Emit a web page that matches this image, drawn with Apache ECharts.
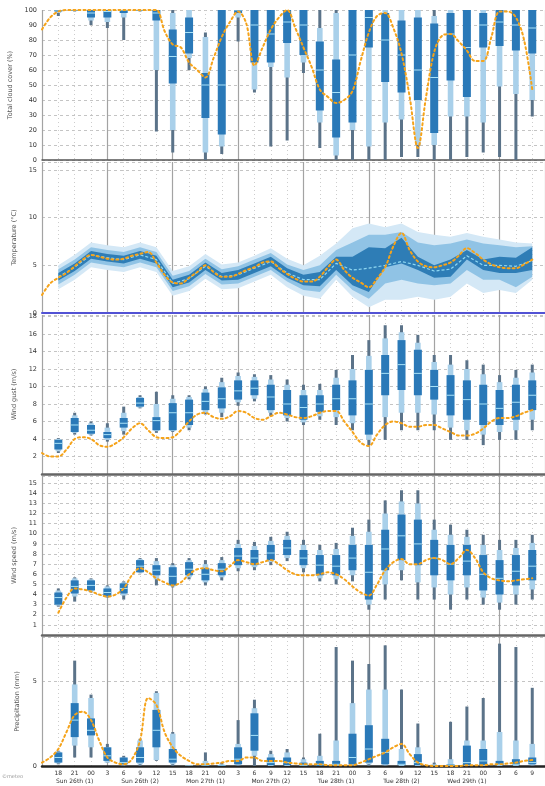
<!DOCTYPE html>
<html><head><meta charset="utf-8">
<script src="https://cdn.jsdelivr.net/npm/echarts@6/dist/echarts.min.js"></script>
<style>html,body{margin:0;padding:0;background:#fff}#c{width:545px;height:786px}</style>
</head><body><div id="c"></div>
<script>
// ---------- categories / labels ----------
const hourLabels = ['18','21','00','3','6','9','12','15','18','21','00','3','6','9','12','15','18','21','00','3','6','9','12','15','18','21','00','3','6','9'];
const dateLabels = ['Sun 26th (1)','Sun 26th (2)','Mon 27th (1)','Mon 27th (2)','Tue 28th (1)','Tue 28th (2)','Wed 29th (1)'];
const panelTitles = ['Total cloud cover (%)','Temperature (°C)','Wind gust (m/s)','Wind speed (m/s)','Precipitation (mm)'];

// ---------- ensemble percentiles per step: [min, p10, p25, median, p75, p90, max] ----------
const cloudBoxes = [
 [96,98,99,100,100,100,100],[99,100,100,100,100,100,100],[90,93,95,98,100,100,100],[88,92,95,99,100,100,100],
 [80,95,98,100,100,100,100],[99,100,100,100,100,100,100],[19,60,93,98,100,100,100],[5,20,51,69,87,98,100],
 [60,68,71,85,95,100,100],[0,5,28,50,58,82,85],[4,9,17,50,100,100,100],[79,95,98,100,100,100,100],
 [45,47,65,90,100,100,100],[9,62,65,84,100,100,100],[13,55,78,92,100,100,100],[58,65,70,90,100,100,100],
 [8,25,33,60,79,88,100],[0,3,15,45,67,98,100],[0,20,25,70,100,100,100],[0,9,75,95,100,100,100],
 [0,25,52,80,98,100,100],[2,27,45,70,93,100,100],[2,10,40,60,95,100,100],[0,10,18,55,91,96,100],
 [0,29,53,84,98,100,100],[2,29,42,75,100,100,100],[5,25,75,90,98,100,100],[2,49,76,92,100,100,100],
 [0,44,73,90,100,100,100],[29,40,71,88,100,100,100]
];
const tempBands = [
 [2.5,3.0,3.4,3.8,4.2,4.6,5.0],[3.5,4.0,4.4,4.8,5.2,5.6,6.1],[4.8,5.3,5.7,6.1,6.5,6.9,7.4],[4.5,5.0,5.4,5.8,6.2,6.6,7.1],
 [4.3,4.8,5.2,5.6,6.0,6.4,6.9],[4.8,5.3,5.7,6.1,6.5,6.9,7.4],[4.3,4.8,5.2,5.6,6.0,6.4,6.9],[1.8,2.3,2.7,3.1,3.5,3.9,4.4],
 [2.3,2.8,3.2,3.6,4.0,4.4,4.9],[3.6,4.1,4.5,4.9,5.3,5.7,6.2],[2.5,3.0,3.4,3.8,4.2,4.6,5.1],[2.6,3.1,3.5,4.0,4.5,4.9,5.3],
 [3.3,3.8,4.2,4.7,5.2,5.6,6.0],[4.0,4.5,4.9,5.4,5.9,6.3,6.8],[2.7,3.3,3.7,4.2,4.7,5.1,5.7],[1.8,2.4,2.9,3.5,4.0,4.5,5.0],
 [1.5,2.2,2.8,3.5,4.3,5.0,6.0],[3.5,4.0,4.5,5.2,5.9,6.6,7.3],[1.7,2.4,2.9,4.5,5.9,7.4,8.9],[0.6,1.5,2.2,4.7,6.9,8.2,9.4],
 [1.4,3.1,4.8,5.0,6.8,8.2,9.0],[1.4,3.5,5.2,5.4,7.9,8.5,9.4],[1.7,3.1,4.5,5.0,5.9,7.4,8.5],[1.4,2.9,3.7,4.4,5.0,7.1,8.2],
 [1.7,3.1,3.8,4.6,5.6,7.3,8.0],[3.1,4.5,5.6,6.0,6.6,7.7,8.4],[2.1,3.5,4.5,5.0,5.6,7.3,8.0],[2.4,3.5,4.2,5.0,5.9,7.1,7.7],
 [2.1,2.7,4.2,4.9,5.8,6.9,7.4],[3.5,3.8,4.5,5.5,6.9,7.0,7.3]
];
const gustBoxes = [
 [2.4,2.6,2.8,3.5,3.9,4.0,4.1],[4.5,4.7,4.8,5.6,6.4,6.7,7.0],[4.4,4.5,4.6,5.0,5.6,5.8,6.0],[3.7,3.9,4.1,4.5,4.8,5.3,5.8],
 [4.5,4.9,5.3,5.8,6.4,7.0,7.7],[7.5,7.6,7.7,8.1,8.7,8.8,9.0],[4.7,4.9,5.0,6.1,6.5,8.0,9.4],[4.8,4.9,5.0,7.0,8.1,8.6,9.0],
 [5.0,5.3,5.6,7.0,8.5,8.8,9.0],[6.8,7.0,7.3,8.3,9.3,9.7,10.0],[6.5,7.0,7.5,8.6,9.9,10.5,11.0],[7.8,8.2,8.5,9.5,10.7,11.2,11.6],
 [8.3,8.6,9.0,9.8,10.7,11.1,11.4],[6.6,7.0,7.3,8.8,10.2,10.8,11.3],[6.0,6.4,6.7,8.0,9.6,10.2,10.8],[5.6,5.9,6.2,7.6,9.0,9.6,10.2],
 [6.2,6.6,7.1,8.0,9.0,9.6,10.3],[5.6,6.5,7.3,8.6,10.2,11.0,11.9],[5.0,5.8,6.7,8.6,10.7,12.0,13.6],[3.3,3.9,4.5,8.0,11.9,13.5,15.3],
 [3.9,6.5,9.0,11.5,13.6,15.5,17.0],[5.0,7.0,9.6,12.5,15.3,16.2,17.0],[5.0,7.0,9.0,11.5,14.2,15.0,15.9],[5.0,6.8,8.5,10.0,11.9,12.8,13.6],
 [3.9,5.3,6.7,9.0,11.3,12.5,13.6],[3.9,5.0,6.2,8.5,10.7,12.0,13.0],[3.3,4.5,5.6,8.0,10.2,11.4,12.5],[3.9,4.8,5.6,7.5,9.6,10.5,11.3],
 [3.9,5.0,6.2,8.2,10.2,11.0,11.9],[5.0,6.2,7.3,9.0,10.7,11.6,12.5]
];
const windBoxes = [
 [2.8,2.9,3.0,3.7,4.2,4.4,4.6],[3.3,3.8,4.1,4.8,5.4,5.6,5.7],[4.2,4.3,4.4,4.9,5.4,5.5,5.6],[3.7,3.75,3.8,4.2,4.6,4.8,4.9],
 [3.5,3.9,4.1,4.6,5.1,5.2,5.3],[6.1,6.15,6.2,6.8,7.4,7.5,7.6],[4.9,5.5,5.9,6.4,6.9,7.3,7.6],[4.7,4.8,4.9,5.8,6.7,6.9,7.1],
 [5.5,5.7,5.9,6.5,7.2,7.4,7.6],[4.9,5.2,5.4,6.0,6.6,7.0,7.4],[5.4,5.7,5.9,6.5,7.1,7.4,7.7],[6.3,6.6,6.9,7.8,8.6,9.0,9.4],
 [6.4,6.7,6.9,7.6,8.4,8.8,9.2],[6.9,7.2,7.4,8.1,8.9,9.3,9.7],[7.3,7.6,7.9,8.6,9.4,9.8,10.2],[6.2,6.6,6.9,7.6,8.4,8.9,9.4],
 [5.3,5.6,5.9,6.9,7.9,8.4,8.9],[5.0,5.5,5.9,6.8,7.9,8.5,9.1],[5.3,5.9,6.4,7.6,8.9,9.8,10.6],[2.5,3.0,3.5,6.2,8.9,10.2,11.4],
 [3.5,5.0,6.4,8.5,10.4,12.0,13.3],[5.4,6.4,7.4,9.8,11.9,13.2,14.3],[3.5,5.2,6.9,9.0,11.4,13.0,14.3],[3.5,4.7,5.9,7.6,9.4,10.4,11.4],
 [2.5,4.0,5.4,7.0,8.9,9.9,10.9],[3.5,4.7,5.9,7.3,8.9,9.7,10.4],[3.0,3.7,4.4,6.0,7.9,8.9,9.9],[2.5,3.2,4.0,5.6,7.4,8.4,9.4],
 [3.0,4.0,4.9,6.3,7.9,8.6,9.4],[3.5,4.5,5.4,6.8,8.4,9.1,9.9]
];
const precipBoxes = [
 [0.1,0.15,0.2,0.5,0.8,0.85,0.9],[0.5,1.2,1.7,2.7,3.7,4.8,6.2],[0.5,1.1,1.8,2.1,2.8,4.0,4.2],[0.2,0.2,0.3,0.6,1.1,1.1,1.3],
 [0,0.05,0.1,0.2,0.5,0.5,0.6],[0,0.1,0.2,0.5,1.1,1.5,1.6],[0.3,0.35,1.1,2.1,3.3,4.3,4.4],[0,0.1,0.2,0.4,1.0,1.9,2.0],
 [0,0,0,0,0,0,0.05],[0,0,0,0,0.05,0.3,0.8],[0,0,0,0,0.05,0.1,0.2],[0,0.05,0.1,0.4,1.1,1.3,2.7],
 [0,0.6,0.9,1.8,3.1,3.4,3.9],[0,0,0.05,0.2,0.5,0.7,0.9],[0,0,0.05,0.2,0.5,0.8,1.0],[0,0,0,0.05,0.2,0.4,0.5],
 [0,0,0,0.1,0.3,0.6,1.9],[0,0,0.05,0.1,0.3,1.5,7.0],[0,0.05,0.1,0.5,1.9,3.7,6.2],[0,0.1,0.2,1.0,2.4,4.5,6.0],
 [0,0.05,0.1,0.8,1.6,4.5,7.1],[0,0,0.05,0.1,0.3,1.0,4.5],[0,0,0.05,0.2,0.7,1.1,2.5],[0,0,0,0,0.05,0.1,0.2],
 [0,0,0,0.05,0.1,0.4,2.6],[0,0,0.05,0.2,1.2,1.5,3.5],[0,0,0.05,0.3,1.0,1.5,4.0],[0,0,0.05,0.1,0.3,2.0,7.2],
 [0,0,0.05,0.1,0.4,1.5,7.0],[0,0.05,0.1,0.2,0.5,1.3,4.6]
];

// ---------- observed (orange) series, sampled every half step ----------
const obsX = [0,0.5,1,1.5,2,2.5,3,3.5,4,4.5,5,5.5,6,6.5,7,7.5,8,8.5,9,9.5,10,10.5,11,11.5,12,12.5,13,13.5,14,14.5,15,15.5,16,16.5,17,17.5,18,18.5,19,19.5,20,20.5,21,21.5,22,22.5,23,23.5,24,24.5,25,25.5,26,26.5,27,27.5,28,28.5,29,29.5,30];
const cloudObs = [87,95,99,100,100,100,100,100,100,100,100,100,100,100,100,86,77,75,65,60,55,68,82,92,99,91,63,75,87,95,100,88,75,62,47,42,38,40,46,66,85,96,98,88,71,42,8,42,72,83,84,79,73,66,66,82,99,99,95,80,47];
const tempObs = [1.9,3.1,3.7,4.2,4.9,5.6,6.1,5.9,5.7,5.6,5.7,6.0,6.2,6.4,5.3,4.0,3.2,3.1,3.7,4.3,5.0,4.3,3.8,3.8,4.1,4.5,4.8,5.3,5.4,4.7,4.1,3.6,3.3,3.3,3.8,4.8,5.6,4.5,3.7,3.2,2.7,3.6,4.8,7.0,8.4,6.6,5.4,4.9,4.8,5.0,5.3,6.0,6.8,6.3,5.6,5.1,4.8,4.7,4.7,5.1,5.6];
const gustObs = [2.4,2.0,2.0,2.8,4.0,4.2,4.0,3.3,3.1,3.5,4.2,5.2,5.8,5.0,4.2,4.1,4.2,5.0,6.0,6.8,7.0,6.5,6.3,6.6,7.2,7.0,6.4,6.2,6.6,7.0,6.8,6.5,6.4,6.6,7.0,7.2,7.2,6.0,4.8,3.6,3.2,4.5,5.6,6.0,5.8,5.4,5.4,5.6,5.6,5.2,4.8,4.4,4.4,4.6,5.2,6.0,6.4,6.4,6.6,7.0,7.3];
const windObs = [null,null,2.2,3.7,4.6,4.5,4.3,4.0,3.8,4.0,4.6,5.9,6.6,6.2,5.6,5.2,4.9,5.2,6.0,6.5,6.6,6.4,6.3,6.8,7.4,7.2,7.0,7.2,7.4,7.0,6.4,6.0,5.9,5.9,6.0,6.2,6.0,5.5,4.8,4.2,3.9,5.0,6.4,7.2,7.5,7.0,7.0,7.4,7.6,7.4,7.0,7.6,8.4,7.6,6.2,5.6,5.4,5.3,5.4,5.5,5.6];
const precipObs = [0.2,0.5,1.0,2.0,3.0,3.2,2.7,1.5,0.5,0.2,0.1,0.4,1.5,4.0,3.6,2.0,1.1,0.6,0.3,0.1,0.1,0.15,0.2,0.3,0.3,0.5,0.5,0.3,0.3,0.3,0.2,0.15,0.1,0.1,0.1,0.05,0.05,0.05,0.05,0.2,0.4,0.6,0.8,1.1,1.3,0.7,0.2,0.05,0,0,0,0,0.05,0.05,0.05,0.1,0.1,0.15,0.2,0.3,0.35];

// ---------- axis ranges ----------
const xMax = 30.78;
const yMaxes = [100, 15.84, 18.17, 15.71, 7.59];
const yIntervals = [10, 5, 2, 1, 5];

const C = {slate:'#5b7389', light:'#a9d0ea', blue:'#2a79b8', med:'#a8e2f8', orange:'#f5a31a'};
const FONT = 'DejaVu Sans';

const chart = echarts.init(document.getElementById('c'), null, {renderer:'canvas'});

const grids = [
  {left:42, right:0, top:10, height:150},
  {left:42, right:0, top:162, height:151},
  {left:42, right:0, top:315, height:159},
  {left:42, right:0, top:476, height:159},
  {left:42, right:0, top:637, height:129}
].map(g => Object.assign(g, {outerBoundsMode:'none', containLabel:false}));

const bottomLines = [
  {color:'#555', width:1.5}, {color:'#5252d4', width:2}, {color:'#666', width:2.5},
  {color:'#666', width:2.5}, {color:'#222', width:2.5}
];

function isInt(v){ return Math.abs(v - Math.round(v)) < 1e-6; }

const xAxes = [], yAxes = [];
for (let g = 0; g < 5; g++) {
  xAxes.push({
    gridIndex:g, type:'value', min:0, max:xMax, interval:1, position:'bottom',
    axisLine:{show:true, onZero:false, lineStyle:bottomLines[g]},
    axisTick:{show:false},
    axisLabel:{show:g===4, fontSize:6, color:'#333', margin:3, lineHeight:8, fontFamily:FONT,
      showMinLabel:true, showMaxLabel:true,
      formatter:function(v){
        if (!isInt(v)) return '';
        const i = Math.round(v);
        if (i < 1 || i > 30) return '';
        let s = hourLabels[i-1];
        const d = (i-2)/4;
        if (isInt(d) && d >= 0 && d < dateLabels.length) s += '\n' + dateLabels[d];
        return s;
      }},
    splitLine:{show:true, lineStyle:{color:'#cdcdcd', width:1, type:[1,3]}}
  });
  xAxes.push({
    gridIndex:g, type:'value', min:0, max:xMax, interval:4, position:'top',
    axisLine:{show:false}, axisTick:{show:false}, axisLabel:{show:false},
    splitLine:{show:true, lineStyle:{color:'#a3a3a3', width:1.2}}
  });
  const step = yIntervals[g];
  yAxes.push({
    gridIndex:g, type:'value', min:0, max:yMaxes[g], interval:step,
    name:panelTitles[g], nameLocation:'middle', nameGap:21, nameRotate:90,
    nameTextStyle:{fontSize:6.5, color:'#555', fontFamily:FONT},
    axisLine:{show:false}, axisTick:{show:false},
    axisLabel:{fontSize:6.5, color:'#333', margin:5, fontFamily:FONT,
      formatter:function(v){
        if (!isInt(v / step)) return '';
        if (Math.abs(v - yMaxes[g]) < 1e-6 && g !== 0) return '';
        if (v === 0 && (g === 2 || g === 3)) return '';
        return String(Math.round(v*10)/10);
      }},
    splitLine:{show:true, lineStyle:{color:'#c4c4c4', width:1, type:[3,3]}}
  });
}

function boxRender(params, api) {
  const x = api.value(0);
  const pt = k => api.coord([x, api.value(k)]);
  const cx = pt(1)[0];
  const yMin = pt(1)[1], y10 = pt(2)[1], y25 = pt(3)[1], yMed = pt(4)[1],
        y75 = pt(5)[1], y90 = pt(6)[1], yMax = pt(7)[1];
  return {type:'group', children:[
    {type:'rect', shape:{x:cx-1.5, y:yMax, width:3, height:Math.max(yMin-yMax,0.8)}, style:{fill:C.slate}},
    {type:'rect', shape:{x:cx-2.8, y:y90, width:5.6, height:Math.max(y10-y90,0.8)}, style:{fill:C.light}},
    {type:'rect', shape:{x:cx-4, y:y75, width:8, height:Math.max(y25-y75,1)}, style:{fill:C.blue}},
    {type:'line', shape:{x1:cx-4, y1:yMed, x2:cx+4, y2:yMed}, style:{stroke:C.med, lineWidth:1}}
  ]};
}

function boxSeries(data, g) {
  return {type:'custom', xAxisIndex:2*g, yAxisIndex:g, clip:true, z:3,
    data:data.map((b,k)=>[k+1].concat(b)),
    encode:{x:0, y:[1,2,3,4,5,6,7]},
    renderItem:boxRender, silent:true};
}

function obsSeries(vals, g) {
  return {type:'line', xAxisIndex:2*g, yAxisIndex:g, z:6, silent:true,
    data:obsX.map((x,k)=>[x, vals[k]]),
    smooth:0.35, showSymbol:false, connectNulls:false,
    lineStyle:{color:C.orange, width:2, type:[2,3], cap:'round'}};
}

const tempBandSeries = {
  type:'custom', xAxisIndex:2, yAxisIndex:1, z:3, clip:true, silent:true,
  data:tempBands.map((b,k)=>[k+1].concat(b)),
  encode:{x:0, y:[1,2,3,4,5,6,7]},
  renderItem:function(params, api){
    if (params.dataIndex !== 0) return null;
    const pts = k => tempBands.map((b,j)=>api.coord([j+1, b[k]]));
    const poly = (lo, hi) => pts(hi).concat(pts(lo).reverse());
    return {type:'group', children:[
      {type:'polygon', shape:{points:poly(0,6)}, style:{fill:'#d4e8f6'}},
      {type:'polygon', shape:{points:poly(1,5)}, style:{fill:'#90c3e5'}},
      {type:'polygon', shape:{points:poly(2,4)}, style:{fill:'#2e7db6'}}
    ]};
  }
};
const tempMedian = {
  type:'line', xAxisIndex:2, yAxisIndex:1, z:4, silent:true, showSymbol:false,
  data:tempBands.map((b,j)=>[j+1, b[3]]),
  lineStyle:{color:'#8fd8f2', width:1.2, type:[3,2]}
};

chart.setOption({
  animation:false,
  backgroundColor:'#ffffff',
  textStyle:{fontFamily:FONT},
  grid:grids,
  xAxis:xAxes,
  yAxis:yAxes,
  graphic:[{type:'text', left:2, top:774, style:{text:'©meteo', fontSize:5, fill:'#999', fontFamily:FONT}}],
  series:[
    boxSeries(cloudBoxes, 0), obsSeries(cloudObs, 0),
    tempBandSeries, tempMedian, obsSeries(tempObs, 1),
    boxSeries(gustBoxes, 2), obsSeries(gustObs, 2),
    boxSeries(windBoxes, 3), obsSeries(windObs, 3),
    boxSeries(precipBoxes, 4), obsSeries(precipObs, 4)
  ]
});
</script>
</body></html>
